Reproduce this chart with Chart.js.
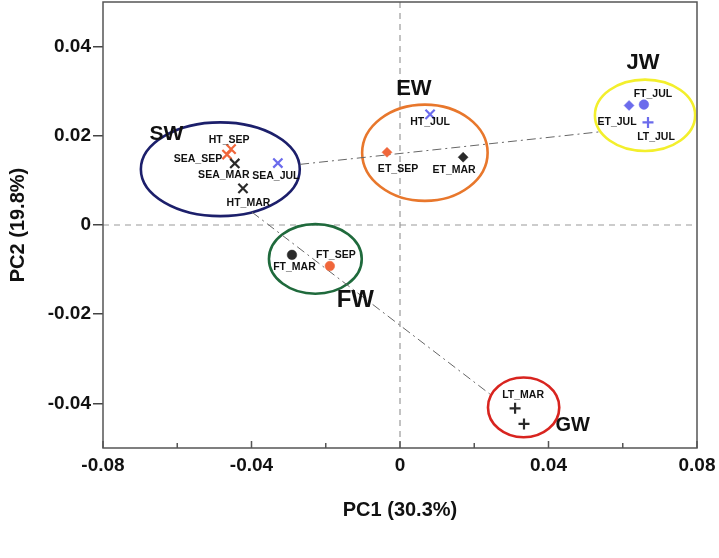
<!DOCTYPE html>
<html>
<head>
<meta charset="utf-8">
<script src="https://cdn.jsdelivr.net/npm/chart.js@4.4.1/dist/chart.umd.min.js"></script>
<style>
  html, body { margin: 0; padding: 0; background: #fff; }
  #wrap { width: 719px; height: 558px; }
</style>
</head>
<body>
<div id="wrap"><canvas id="pcaChart"></canvas></div>
<script>
// PCA scores, one entry per sample
const sampleLabels = ["HT_SEP", "SEA_SEP", "SEA_MAR", "SEA_JUL", "HT_MAR", "HT_JUL", "ET_SEP", "ET_MAR",
  "FT_JUL", "ET_JUL", "LT_JUL", "FT_MAR", "FT_SEP", "LT_MAR", ""];
const sampleSite = ["HT", "SEA", "SEA", "SEA", "HT", "HT", "ET", "ET", "FT", "ET", "LT", "FT", "FT", "LT", "LT"];
const sampleMonth = ["SEP", "SEP", "MAR", "JUL", "MAR", "JUL", "SEP", "MAR", "JUL", "JUL", "JUL", "MAR", "SEP", "MAR", "MAR"];
const pc1 = [-0.0455, -0.0466, -0.0445, -0.0329, -0.0423, 0.0081, -0.0035, 0.0170,
  0.0657, 0.0617, 0.0668, -0.0291, -0.0189, 0.0310, 0.0334];
const pc2 = [0.0170, 0.0158, 0.0138, 0.0139, 0.0082, 0.0248, 0.0163, 0.0152,
  0.0270, 0.0268, 0.0230, -0.0067, -0.0092, -0.0411, -0.0446];

// group ellipses (data units)
const groupNames = ["SW", "EW", "JW", "FW", "GW"];
const groupCx = [-0.0484, 0.0067, 0.0660, -0.0228, 0.0333];
const groupCy = [0.0125, 0.0162, 0.0246, -0.0076, -0.0409];
const groupRx = [0.0214, 0.0169, 0.0135, 0.0125, 0.0096];
const groupRy = [0.0105, 0.0108, 0.0080, 0.0078, 0.0067];

// dash-dot links between groups
const linkX = [[-0.0269, 0.0539], [-0.0399, 0.0242]];
const linkY = [[0.0136, 0.0209], [0.0029, -0.0379]];

// axes
const xTicks = [-0.08, -0.04, 0, 0.04, 0.08];
const xTickLabels = ["-0.08", "-0.04", "0", "0.04", "0.08"];
const xMinorTicks = [-0.06, -0.02, 0.02, 0.06];
const yTicks = [-0.04, -0.02, 0, 0.02, 0.04];
const yTickLabels = ["-0.04", "-0.02", "0", "0.02", "0.04"];

// styles
const FONT = "'Liberation Sans', Arial, sans-serif";
const markerBySite = { HT: "crossRot", SEA: "crossRot", ET: "rectRot", FT: "circle", LT: "cross" };
const radiusBySite = { HT: 6.5, SEA: 6.5, ET: 5, FT: 4.8, LT: 5.5 };
const colorByMonth = { MAR: "#2a2a2a", SEP: "#f0663a", JUL: "#6b6bec" };
const groupStyle = {
  SW: { color: "#1c1f6b", dx: -54, dy: -35, size: 21 },
  EW: { color: "#e8772c", dx: -11, dy: -64, size: 22 },
  JW: { color: "#f3ef2c", dx: -2, dy: -52, size: 22 },
  FW: { color: "#1f6a3c", dx: 40, dy: 41, size: 24 },
  GW: { color: "#d8241f", dx: 49, dy: 18, size: 20 },
};
const labelOffset = {
  HT_SEP: [-2, -9.5], SEA_SEP: [-29, 4.5], SEA_MAR: [-11, 12], SEA_JUL: [-2, 13.5], HT_MAR: [5.5, 14.5],
  HT_JUL: [0, 8], ET_SEP: [11, 16.5], ET_MAR: [-9, 12.5], FT_JUL: [9, -10], ET_JUL: [-12, 17],
  LT_JUL: [8, 14.5], FT_MAR: [2.5, 12.5], FT_SEP: [6, -10.5], LT_MAR: [8, -13.5],
};

const points = pc1.map((x, i) => ({ x: x, y: pc2[i] }));
const isStroke = (i) => ["crossRot", "cross"].includes(markerBySite[sampleSite[i]]);

const pcaDecor = {
  id: "pcaDecor",
  beforeDatasetsDraw(chart) {
    const { ctx, chartArea: a, scales: { x, y } } = chart;
    ctx.save();
    // zero lines
    ctx.strokeStyle = "#9a9a9a";
    ctx.lineWidth = 1.2;
    ctx.setLineDash([6, 5]);
    ctx.beginPath();
    const x0 = x.getPixelForValue(0), y0 = y.getPixelForValue(0);
    ctx.moveTo(x0, a.top); ctx.lineTo(x0, a.bottom);
    ctx.moveTo(a.left, y0); ctx.lineTo(a.right, y0);
    ctx.stroke();
    ctx.setLineDash([]);
    // group ellipses
    groupNames.forEach((g, i) => {
      const cx = x.getPixelForValue(groupCx[i]);
      const cy = y.getPixelForValue(groupCy[i]);
      const rx = Math.abs(x.getPixelForValue(groupCx[i] + groupRx[i]) - cx);
      const ry = Math.abs(y.getPixelForValue(groupCy[i] + groupRy[i]) - cy);
      ctx.strokeStyle = groupStyle[g].color;
      ctx.lineWidth = 2.6;
      ctx.beginPath();
      ctx.ellipse(cx, cy, rx, ry, 0, 0, Math.PI * 2);
      ctx.stroke();
    });
    ctx.restore();
  },
  afterDatasetsDraw(chart) {
    const { ctx, scales: { x, y } } = chart;
    ctx.save();
    ctx.fillStyle = "#111";
    ctx.textAlign = "center";
    ctx.textBaseline = "middle";
    ctx.font = "bold 10.5px " + FONT;
    sampleLabels.forEach((name, i) => {
      if (!name) return;
      const off = labelOffset[name] || [0, 0];
      ctx.fillText(name, x.getPixelForValue(pc1[i]) + off[0], y.getPixelForValue(pc2[i]) + off[1]);
    });
    groupNames.forEach((g, i) => {
      const s = groupStyle[g];
      ctx.font = "bold " + s.size + "px " + FONT;
      ctx.fillText(g, x.getPixelForValue(groupCx[i]) + s.dx, y.getPixelForValue(groupCy[i]) + s.dy);
    });
    ctx.restore();
  },
  afterDraw(chart) {
    const { ctx, chartArea: a, scales: { x } } = chart;
    ctx.save();
    ctx.strokeStyle = "#555";
    ctx.lineWidth = 1.5;
    ctx.strokeRect(a.left, a.top, a.right - a.left, a.bottom - a.top);
    // inward x ticks
    ctx.beginPath();
    xTicks.forEach((v) => {
      const px = x.getPixelForValue(v);
      ctx.moveTo(px, a.bottom); ctx.lineTo(px, a.bottom - 7);
    });
    xMinorTicks.forEach((v) => {
      const px = x.getPixelForValue(v);
      ctx.moveTo(px, a.bottom); ctx.lineTo(px, a.bottom - 5);
    });
    ctx.stroke();
    ctx.restore();
  },
};

new Chart(document.getElementById("pcaChart"), {
  type: "scatter",
  data: {
    datasets: [
      {
        data: points,
        pointStyle: sampleSite.map((s) => markerBySite[s]),
        pointRadius: sampleSite.map((s) => radiusBySite[s]),
        pointHoverRadius: sampleSite.map((s) => radiusBySite[s]),
        pointBackgroundColor: sampleMonth.map((m) => colorByMonth[m]),
        pointBorderColor: sampleMonth.map((m) => colorByMonth[m]),
        pointBorderWidth: sampleSite.map((s, i) => (isStroke(i) ? 2.2 : 0.5)),
        showLine: false,
      },
      ...linkX.map((lx, k) => ({
        type: "line",
        data: [{ x: lx[0], y: linkY[k][0] }, { x: lx[1], y: linkY[k][1] }],
        borderColor: "#666",
        borderWidth: 1,
        borderDash: [9, 4, 2, 4],
        pointRadius: 0,
        fill: false,
      })),
    ],
  },
  options: {
    responsive: true,
    maintainAspectRatio: false,
    animation: false,
    layout: { autoPadding: false, padding: { top: 2, right: 22, left: 0, bottom: 0 } },
    plugins: { legend: { display: false }, tooltip: { enabled: false } },
    scales: {
      x: {
        type: "linear",
        min: -0.08,
        max: 0.08,
        afterBuildTicks: (scale) => { scale.ticks = xTicks.map((v) => ({ value: v })); },
        afterFit: (scale) => {
          scale.height = 110;
          scale.paddingLeft = 0;
          scale.paddingRight = 0;
        },
        ticks: {
          callback: (v, i) => xTickLabels[i],
          color: "#111",
          font: { family: FONT, size: 19, weight: "bold" },
          padding: 6,
          maxRotation: 0,
          autoSkip: false,
        },
        grid: { display: true, drawOnChartArea: false, drawTicks: false },
        border: { display: false },
        title: {
          display: true,
          text: "PC1 (30.3%)",
          color: "#111",
          font: { family: FONT, size: 20, weight: "bold" },
          padding: { top: 0, bottom: 36 },
        },
      },
      y: {
        type: "linear",
        min: -0.05,
        max: 0.05,
        afterBuildTicks: (scale) => { scale.ticks = yTicks.map((v) => ({ value: v })); },
        afterFit: (scale) => {
          scale.width = 103;
          scale.paddingTop = 0;
          scale.paddingBottom = 0;
        },
        ticks: {
          callback: (v, i) => yTickLabels[i],
          color: "#111",
          font: { family: FONT, size: 19, weight: "bold" },
          padding: 2,
          autoSkip: false,
        },
        grid: { drawOnChartArea: false, drawTicks: true, tickLength: 10, color: "#444", lineWidth: 1.5 },
        border: { display: false },
        title: {
          display: true,
          text: "PC2 (19.8%)",
          color: "#111",
          font: { family: FONT, size: 20, weight: "bold" },
          padding: { top: 6, bottom: 0 },
        },
      },
    },
  },
  plugins: [pcaDecor],
});
</script>
</body>
</html>
